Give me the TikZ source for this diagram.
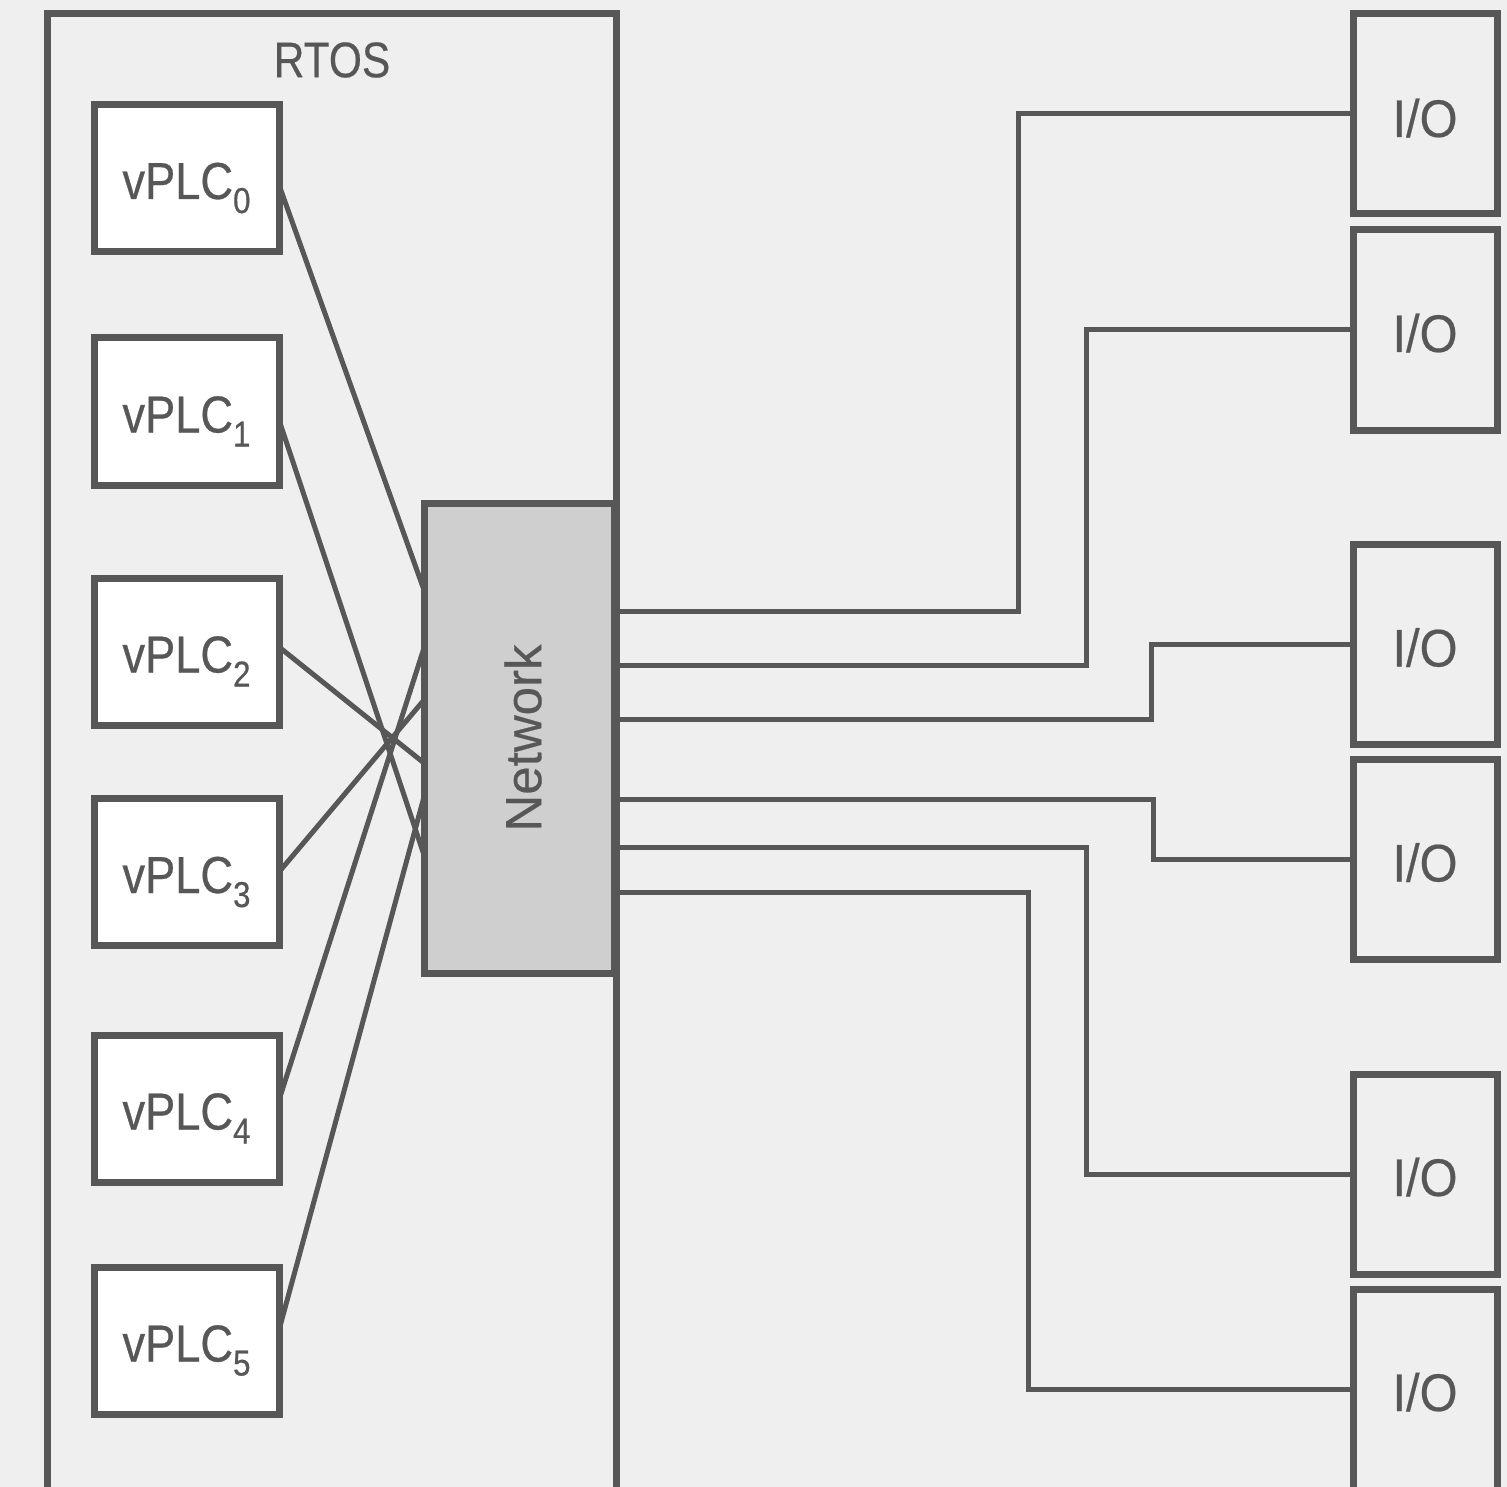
\documentclass[tikz,border=0pt]{standalone}
\usepackage{fontspec}
\setmainfont{Liberation Sans}
\newfontfamily\narrowfont[FakeStretch=0.85,FakeBold=0.4]{Liberation Sans}
\newfontfamily\plcfont[FakeStretch=0.87,FakeBold=0.5]{Liberation Sans}
\newfontfamily\iofont[FakeStretch=0.92,FakeBold=0.4]{Liberation Sans}
\newfontfamily\netfont[FakeBold=0.4]{Liberation Sans}
\usetikzlibrary{calc}
\definecolor{ink}{HTML}{575757}
\definecolor{bgc}{HTML}{EFEFEF}
\definecolor{netc}{HTML}{CFCFCF}
\newcommand\plcsub[1]{\raisebox{-14pt}{\fontsize{36}{36}\selectfont #1}}
\begin{document}
\begin{tikzpicture}[x=1pt,y=-1pt,
  box/.style={draw=ink, line width=7pt, inner sep=0pt, outer sep=0pt, text=ink},
  plc/.style={box, fill=white, minimum width=185pt, minimum height=147pt},
  iobox/.style={box, minimum width=144pt, minimum height=200pt},
  lbl/.style={text=ink, inner sep=0pt},
  plclbl/.style={lbl, anchor=base, font=\plcfont\fontsize{52}{56}\selectfont},
  iolbl/.style={lbl, anchor=base, font=\iofont\fontsize{53}{58}\selectfont},
  wire/.style={draw=ink, line width=5pt}]
\fill[bgc] (0,0) rectangle (1507,1487);
\useasboundingbox (0,0) rectangle (1507,1487);
\clip (0,0) rectangle (1507,1487);

% RTOS container
\node[box, minimum width=569pt, minimum height=1520pt, anchor=north west] (rtos) at (47,14) {};
\node[lbl, font=\narrowfont\fontsize{50}{56}\selectfont] (rtoslbl) at (332,60) {RTOS};

% junction x positions
\coordinate (xA) at (1018,0);
\coordinate (xB) at (1086,0);
\coordinate (xC) at (1151,0);
\coordinate (xD) at (1153,0);
\coordinate (xE) at (1086,0);
\coordinate (xF) at (1028,0);

% positions of nodes (drawn later)
\path (519,738) node[box, draw=none, minimum width=190pt, minimum height=470pt] (net) {};
\path (186.5,178)   node[box, draw=none, minimum width=185pt, minimum height=147pt] (v0) {};
\path (186.5,411.5) node[box, draw=none, minimum width=185pt, minimum height=147pt] (v1) {};
\path (186.5,651.5) node[box, draw=none, minimum width=185pt, minimum height=147pt] (v2) {};
\path (186.5,872)   node[box, draw=none, minimum width=185pt, minimum height=147pt] (v3) {};
\path (186.5,1108.5) node[box, draw=none, minimum width=185pt, minimum height=147pt] (v4) {};
\path (186.5,1340.5) node[box, draw=none, minimum width=185pt, minimum height=147pt] (v5) {};

% wires vPLC -> network
\draw[wire] ([yshift=-7pt]v0.east) -- ([yshift=148pt]net.west);
\draw[wire] ([yshift=-8.5pt]v1.east) -- ([yshift=-117pt]net.west);
\draw[wire] ([yshift=4.5pt]v2.east) -- ([yshift=-25pt]net.west);
\draw[wire] (v3.east) -- ([yshift=38pt]net.west);
\draw[wire] ([yshift=8.5pt]v4.east) -- ([yshift=90pt]net.west);
\draw[wire] ([yshift=10.5pt]v5.east) -- ([yshift=-59pt]net.west);

% vPLC boxes
\node[plc] (p0) at (v0) {};
\node[plc] (p1) at (v1) {};
\node[plc] (p2) at (v2) {};
\node[plc] (p3) at (v3) {};
\node[plc] (p4) at (v4) {};
\node[plc] (p5) at (v5) {};
\node[plclbl] (t0) at ([yshift=-21pt]p0.center) {vPLC\plcsub{0}};
\node[plclbl] (t1) at ([yshift=-21pt]p1.center) {vPLC\plcsub{1}};
\node[plclbl] (t2) at ([yshift=-21pt]p2.center) {vPLC\plcsub{2}};
\node[plclbl] (t3) at ([yshift=-21pt]p3.center) {vPLC\plcsub{3}};
\node[plclbl] (t4) at ([yshift=-21pt]p4.center) {vPLC\plcsub{4}};
\node[plclbl] (t5) at ([yshift=-21pt]p5.center) {vPLC\plcsub{5}};

% I/O boxes
\node[iobox] (ioA) at (1425,114) {};
\node[iobox] (ioB) at (1425,330) {};
\node[iobox] (ioC) at (1425,644.5) {};
\node[iobox] (ioD) at (1425,859.5) {};
\node[iobox] (ioE) at (1425,1174) {};
\node[iobox, draw=none] (ioF) at (1425,1389) {};
\node[iobox, minimum height=230pt, anchor=north] (ioFbox) at (1425,1289) {};
\node[iolbl] (la) at ([yshift=-23pt]ioA.center) {I/O};
\node[iolbl] (lb) at ([yshift=-22pt]ioB.center) {I/O};
\node[iolbl] (lc) at ([yshift=-22pt]ioC.center) {I/O};
\node[iolbl] (ld) at ([yshift=-22pt]ioD.center) {I/O};
\node[iolbl] (le) at ([yshift=-22pt]ioE.center) {I/O};
\node[iolbl] (lf) at ([yshift=-22pt]ioF.center) {I/O};

% wires network -> I/O
\draw[wire] ([yshift=127pt]net.east) -| (xA |- ioA.west) -- (ioA.west);
\draw[wire] ([yshift=73pt]net.east) -| (xB |- ioB.west) -- (ioB.west);
\draw[wire] ([yshift=19pt]net.east) -| (xC |- ioC.west) -- (ioC.west);
\draw[wire] ([yshift=-61pt]net.east) -| (xD |- ioD.west) -- (ioD.west);
\draw[wire] ([yshift=-109pt]net.east) -| (xE |- ioE.west) -- (ioE.west);
\draw[wire] ([yshift=-154pt]net.east) -| (xF |- ioF.west) -- (ioF.west);

% network box
\node[box, fill=netc, minimum width=190pt, minimum height=470pt] (netbox) at (net) {};
\node[lbl, rotate=90, font=\netfont\fontsize{51}{56}\selectfont] (netlbl) at (523,738) {Network};
\end{tikzpicture}
\end{document}
